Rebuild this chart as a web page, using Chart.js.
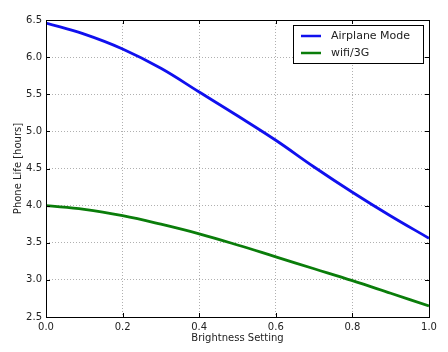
<!DOCTYPE html>
<html>
<head>
<meta charset="utf-8">
<script src="https://cdn.jsdelivr.net/npm/chart.js@4/dist/chart.umd.min.js"></script>
<style>
    html, body { margin: 0; padding: 0; background: #fff; }
    #wrap { width: 448px; height: 352px; position: relative; }
</style>
</head>
<body>
<div id="wrap"><canvas id="lifeChart"></canvas></div>
<script>
const brightness = [0.0, 0.1, 0.2, 0.3, 0.4, 0.5, 0.6, 0.7, 0.8, 0.9, 1.0];
const airplaneMode = [6.46, 6.31, 6.11, 5.85, 5.53, 5.21, 4.88, 4.52, 4.18, 3.86, 3.56];
const wifi3G = [4.00, 3.95, 3.865, 3.75, 3.62, 3.47, 3.31, 3.15, 2.99, 2.82, 2.65];
const xTicks = [0.0, 0.2, 0.4, 0.6, 0.8, 1.0];
const yTicks = [2.5, 3.0, 3.5, 4.0, 4.5, 5.0, 5.5, 6.0, 6.5];

const font = "'DejaVu Sans', sans-serif";

function toPoints(values) {
    return brightness.map((b, i) => ({ x: b, y: values[i] }));
}

// box around the plot, inward ticks, legend in upper right
const framePlugin = {
    id: 'frame',
    afterDraw(chart) {
        const ctx = chart.ctx;
        const a = chart.chartArea;
        const xs = chart.scales.x;
        const ys = chart.scales.y;
        ctx.save();
        ctx.strokeStyle = '#000';
        ctx.lineWidth = 1;
        ctx.beginPath();
        xTicks.forEach(v => {
            const px = Math.round(xs.getPixelForValue(v)) + 0.5;
            ctx.moveTo(px, a.bottom); ctx.lineTo(px, a.bottom - 4);
            ctx.moveTo(px, a.top); ctx.lineTo(px, a.top + 4);
        });
        yTicks.forEach(v => {
            const py = Math.round(ys.getPixelForValue(v)) + 0.5;
            ctx.moveTo(a.left, py); ctx.lineTo(a.left + 4, py);
            ctx.moveTo(a.right, py); ctx.lineTo(a.right - 4, py);
        });
        ctx.stroke();
        ctx.strokeRect(Math.round(a.left) + 0.5, Math.round(a.top) + 0.5,
            Math.round(a.right - a.left), Math.round(a.bottom - a.top));

        // legend
        const lx = 293, ly = 25, lw = 130, lh = 38;
        ctx.fillStyle = '#fff';
        ctx.fillRect(lx, ly, lw, lh);
        ctx.strokeStyle = '#000';
        ctx.strokeRect(lx + 0.5, ly + 0.5, lw, lh);
        ctx.font = '11px ' + font;
        ctx.textBaseline = 'middle';
        chart.data.datasets.forEach((ds, i) => {
            const yy = ly + 11 + i * 17;
            ctx.strokeStyle = ds.borderColor;
            ctx.lineWidth = 2.5;
            ctx.beginPath();
            ctx.moveTo(lx + 8, yy); ctx.lineTo(lx + 28, yy);
            ctx.stroke();
            ctx.fillStyle = '#222';
            ctx.fillText(ds.label, lx + 38, yy);
        });
        ctx.restore();
    }
};

new Chart(document.getElementById('lifeChart').getContext('2d'), {
    type: 'line',
    data: {
        datasets: [
            {
                label: 'Airplane Mode',
                data: toPoints(airplaneMode),
                borderColor: '#1010ee',
                borderWidth: 2.8,
                pointRadius: 0,
                tension: 0.4,
                fill: false
            },
            {
                label: 'wifi/3G',
                data: toPoints(wifi3G),
                borderColor: '#0a7d0a',
                borderWidth: 2.8,
                pointRadius: 0,
                tension: 0.4,
                fill: false
            }
        ]
    },
    options: {
        responsive: true,
        maintainAspectRatio: false,
        animation: false,
        layout: { padding: { top: 20, right: 19, left: 12, bottom: 8 } },
        plugins: {
            legend: { display: false },
            tooltip: { enabled: false }
        },
        scales: {
            x: {
                type: 'linear',
                min: 0,
                max: 1,
                afterFit(scale) { scale.height = 27; },
                afterBuildTicks(scale) { scale.ticks = xTicks.map(v => ({ value: v })); },
                title: {
                    display: true,
                    text: 'Brightness Setting',
                    font: { family: font, size: 10 },
                    color: '#222',
                    padding: { top: 0, bottom: 0 }
                },
                grid: {
                    color: '#b0b0b0',
                    lineWidth: 1,
                    drawTicks: false
                },
                border: { display: false, dash: [1, 2] },
                ticks: {
                    font: { family: font, size: 10 },
                    color: '#222',
                    padding: 4,
                    maxRotation: 0,
                    callback: v => v.toFixed(1)
                }
            },
            y: {
                min: 2.5,
                max: 6.5,
                afterFit(scale) { scale.width = 34; },
                afterBuildTicks(scale) { scale.ticks = yTicks.map(v => ({ value: v })); },
                title: {
                    display: true,
                    text: 'Phone Life [hours]',
                    font: { family: font, size: 10 },
                    color: '#222',
                    padding: { top: 0, bottom: 0 }
                },
                grid: {
                    color: '#b0b0b0',
                    lineWidth: 1,
                    drawTicks: false
                },
                border: { display: false, dash: [1, 2] },
                ticks: {
                    font: { family: font, size: 10 },
                    color: '#222',
                    padding: 4,
                    callback: v => v.toFixed(1)
                }
            }
        }
    },
    plugins: [framePlugin]
});
</script>
</body>
</html>
